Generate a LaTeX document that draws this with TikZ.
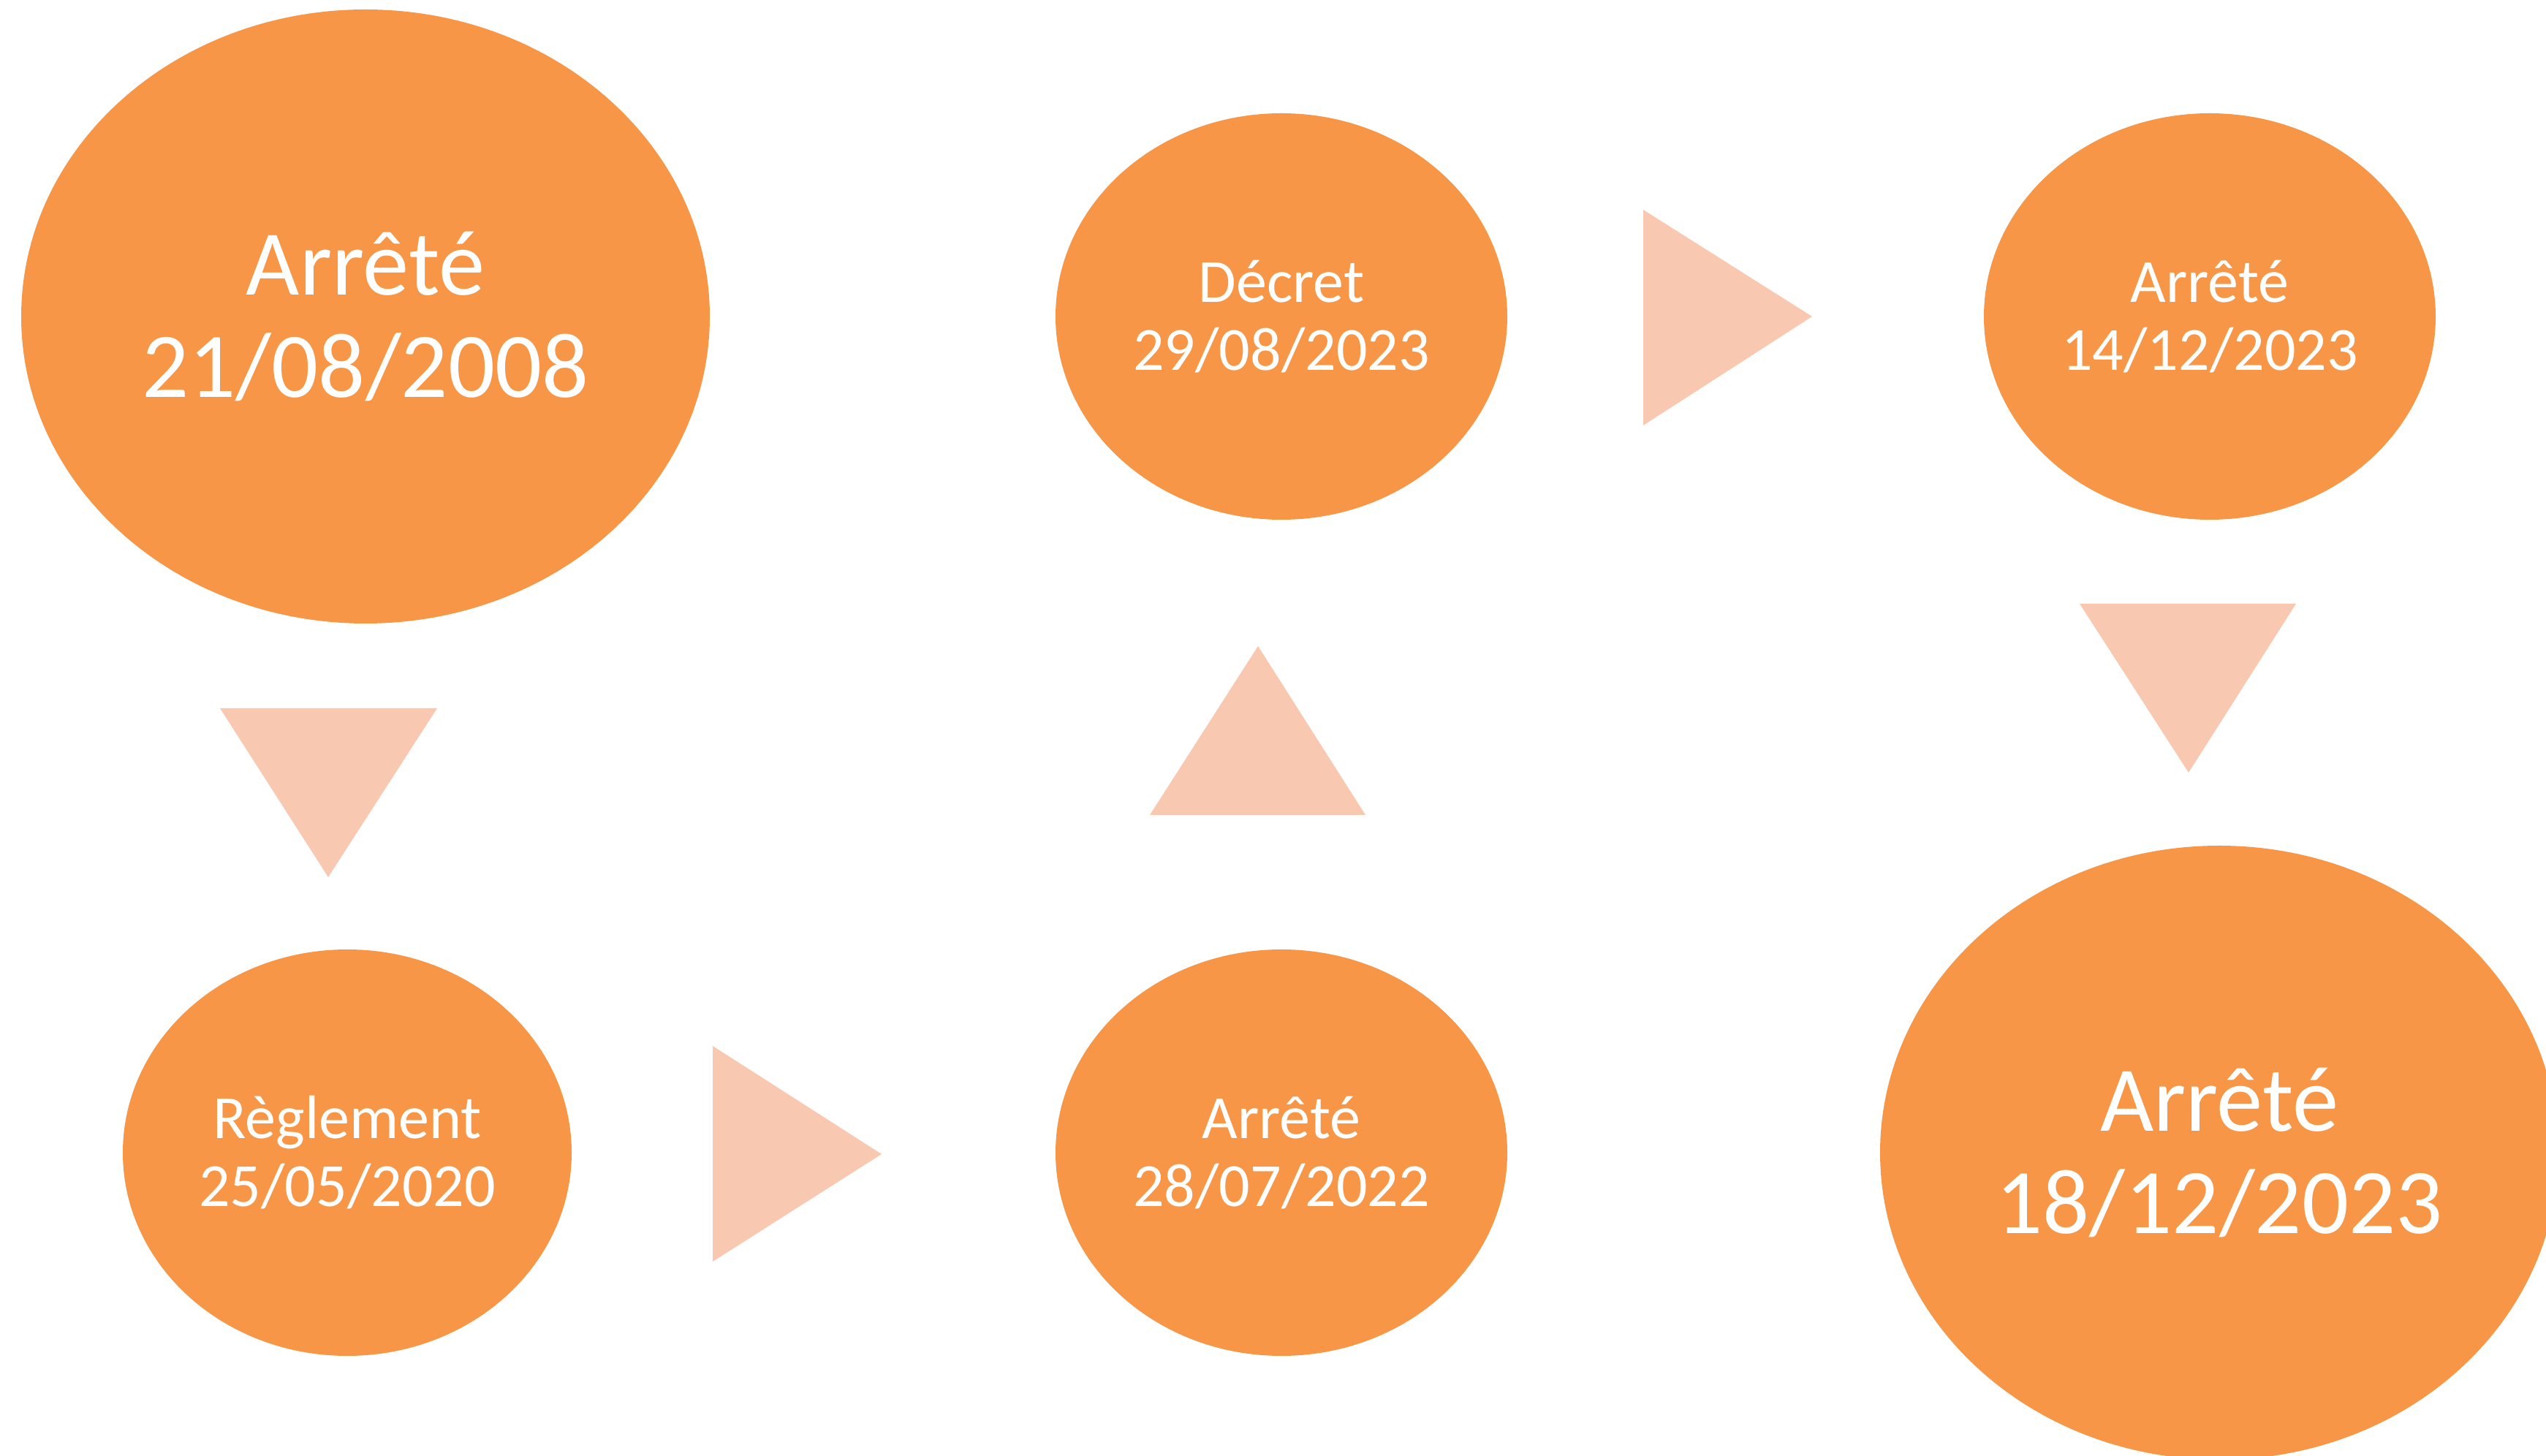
\documentclass[tikz,border=0pt]{standalone}
\usepackage{fontspec}
\setmainfont{Carlito}
\usepackage{xcolor}
\usepackage{tikz}
\usetikzlibrary{shapes.geometric, positioning}
\definecolor{stepcolor}{RGB}{247,150,70}
\definecolor{arrowcolor}{RGB}{248,200,176}

\begin{document}
\begin{tikzpicture}[
    bigdate/.style={fill=stepcolor, ellipse, inner sep=0pt, minimum width=9.42cm, minimum height=8.40cm, text=white, align=center, font=\fontsize{36}{39.8}\selectfont},
    smalldate/.style={fill=stepcolor, ellipse, inner sep=0pt, minimum width=6.18cm, minimum height=5.56cm, text=white, align=center, font=\fontsize{23.9}{26.4}\selectfont},
    flow/.style={fill=arrowcolor}
]
    \useasboundingbox (0,0) rectangle (34.83,19.91);
    \clip (0,0) rectangle (34.83,19.91);

    % Top row
    \node[bigdate] (a2008) at (5.00,15.58) {Arrêté\\21/08/2008};
    \node[smalldate] (d2023) at (17.53,15.58) {Décret\\29/08/2023};
    \node[smalldate] (a1412) at (30.23,15.58) {Arrêté\\14/12/2023};

    % Bottom row
    \node[smalldate, minimum width=6.14cm] (r2020) at (4.75,4.14) {Règlement\\25/05/2020};
    \node[smalldate] (a2022) at (17.53,4.14) {Arrêté\\28/07/2022};
    \node[bigdate, minimum width=9.28cm] (a1812) at (30.36,4.14) {Arrêté\\18/12/2023};

    % Triangles
    \fill[flow] (3.01,10.22) -- (5.98,10.22) -- (4.49,7.91) -- cycle;
    \fill[flow] (9.75,5.60) -- (9.75,2.65) -- (12.06,4.12) -- cycle;
    \fill[flow] (15.73,8.76) -- (18.68,8.76) -- (17.21,11.07) -- cycle;
    \fill[flow] (22.48,17.04) -- (22.48,14.09) -- (24.79,15.58) -- cycle;
    \fill[flow] (28.45,11.65) -- (31.41,11.65) -- (29.94,9.34) -- cycle;
\end{tikzpicture}
\end{document}
